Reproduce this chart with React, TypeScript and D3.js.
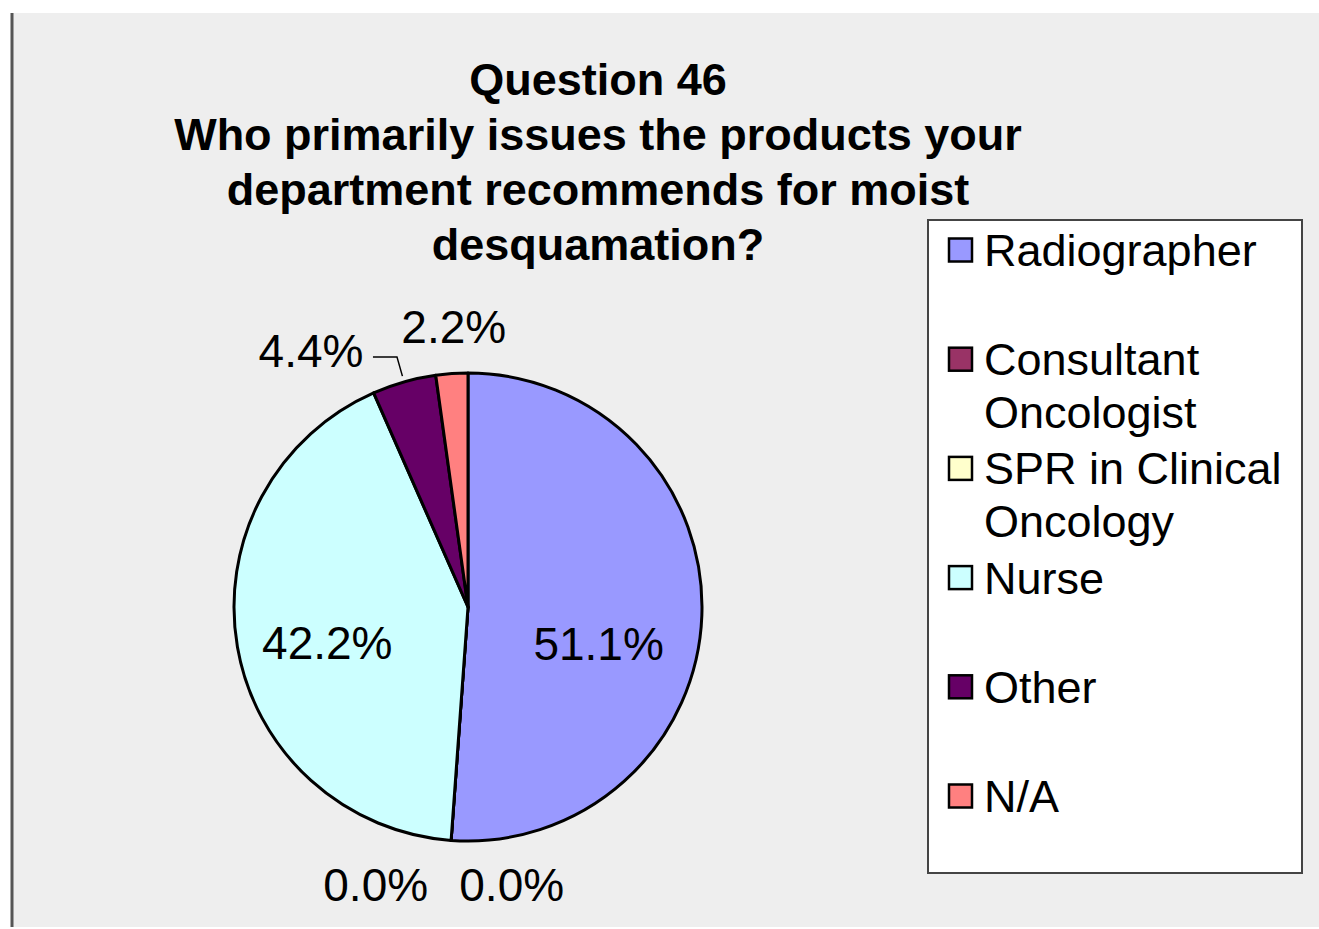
import React from "react";
import * as d3 from "d3";

const categories = ["Radiographer", "Consultant Oncologist", "SPR in Clinical Oncology", "Nurse", "Other", "N/A"];
const legendLines = [["Radiographer"], ["Consultant", "Oncologist"], ["SPR in Clinical", "Oncology"], ["Nurse"], ["Other"], ["N/A"]];
const values = [51.1, 0.0, 0.0, 42.2, 4.4, 2.2];
const colors = ["#9999FF", "#993366", "#FFFFCC", "#CCFFFF", "#660066", "#FF8080"];
const titleLines = ["Question 46", "Who primarily issues the products your", "department recommends for moist", "desquamation?"];

const W = 1319;
const H = 929;
const FONT = "'Liberation Sans', Arial, Helvetica, sans-serif";

export default function App() {
  const cx = 468;
  const cy = 607;
  const r = 234;
  const data = categories.map((c, i) => ({ c, v: values[i], color: colors[i] }));
  const pie = d3.pie<any>().sort(null).value((d) => d.v).startAngle(0).endAngle(2 * Math.PI);
  const arcs = pie(data);
  const arc = d3.arc<any>().innerRadius(0).outerRadius(r);
  const fmt = (v: number) => v.toFixed(1) + "%";

  const polar = (a: number, rad: number) => [Math.sin(a) * rad, -Math.cos(a) * rad];

  const labels = arcs.map((a, i) => {
    const mid = (a.startAngle + a.endAngle) / 2;
    let x = 0, y = 0, anchor = "middle";
    let leader: string | null = null;
    if (a.data.v > 10) {
      const [px, py] = polar(mid, r * 0.58);
      x = px + (i === 0 ? -5 : -7);
      y = py + (i === 0 ? 48 : 29);
    } else if (a.data.v === 0) {
      const [px, py] = polar(mid, r * 1.2);
      x = px + (i === 1 ? -72 : 64); y = py + 14;
    } else if (i === 4) {
      const [ex, ey] = polar(mid, r + 6);
      const [lx, ly] = polar(mid, r + 26);
      x = lx - 86; y = ly + 10;
      leader = `M${ex},${ey} L${lx},${ly} L${lx - 24},${ly}`;
    } else {
      const [px, py] = polar(mid, r + 45);
      x = px + 5; y = py + 14;
    }
    return { x, y, anchor, text: fmt(a.data.v), leader };
  });

  const legendX = 928;
  const legendY = 220;
  const legendW = 374;
  const legendH = 653;
  const rowStep = 109.2;

  return (
    <svg width={W} height={H} style={{ position: "absolute", left: 0, top: 0 }} fontFamily={FONT}>
      <rect x={0} y={0} width={W} height={H} fill="#ffffff" />
      <rect x={12} y={13} width={W - 12} height={H - 15} fill="#eeeeee" />
      <line x1={12} y1={13} x2={12} y2={H - 2} stroke="#555" strokeWidth={3} />

      <g fill="#000" fontWeight="bold" fontSize={45} textAnchor="middle">
        {titleLines.map((t, i) => (
          <text key={i} x={598} y={95 + i * 55}>{t}</text>
        ))}
      </g>

      <g transform={`translate(${cx},${cy})`}>
        {arcs.map((a, i) => (
          <path key={i} d={arc(a) as string} fill={a.data.color} stroke="#000" strokeWidth={3} strokeLinejoin="round" />
        ))}
        {labels.map((l, i) => (
          <g key={i}>
            {l.leader && <path d={l.leader} fill="none" stroke="#000" strokeWidth={1.5} />}
            <text x={l.x} y={l.y} textAnchor={l.anchor as any} fontSize={46} fill="#000">{l.text}</text>
          </g>
        ))}
      </g>

      <rect x={legendX} y={legendY} width={legendW} height={legendH} fill="#ffffff" stroke="#444" strokeWidth={2} />
      {legendLines.map((lines, i) => {
        const cyRow = 250 + i * rowStep;
        return (
          <g key={i}>
            <rect x={949} y={cyRow - 11.5} width={23} height={23} fill={colors[i]} stroke="#000" strokeWidth={2.5} />
            {lines.map((t, j) => (
              <text key={j} x={984} y={cyRow + 16 + j * 53} fontSize={45} fill="#000">{t}</text>
            ))}
          </g>
        );
      })}
    </svg>
  );
}
